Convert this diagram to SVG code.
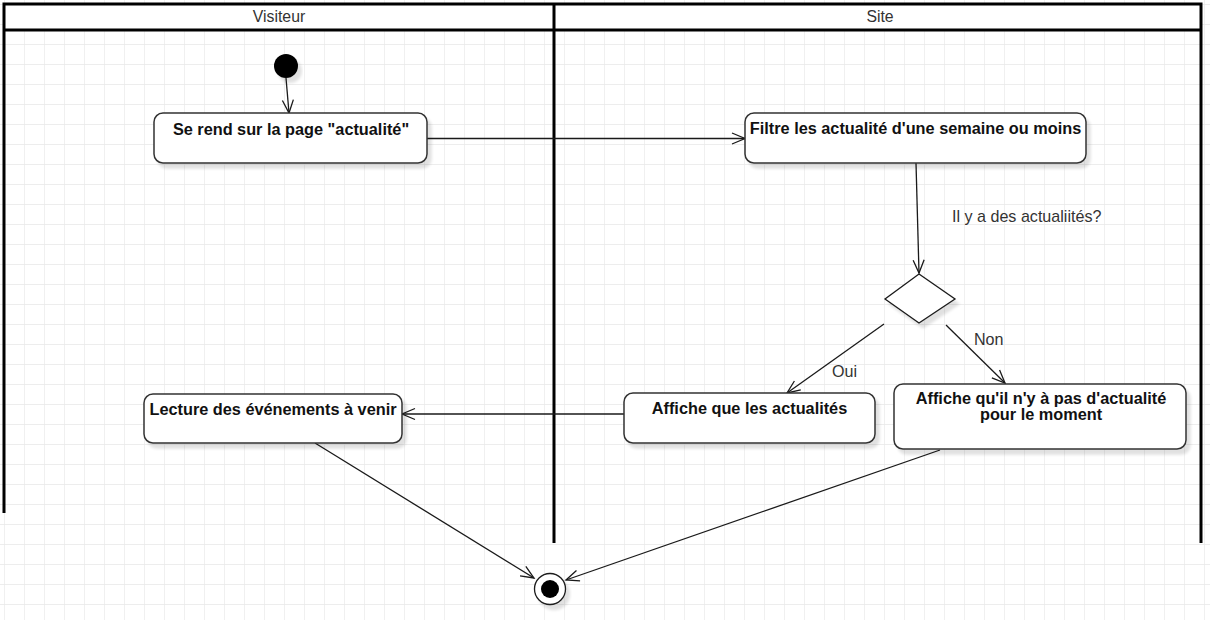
<svg xmlns="http://www.w3.org/2000/svg" width="1210" height="620" viewBox="0 0 1210 620">
  <defs>
    <pattern id="grid" x="4" y="4" width="20" height="20" patternUnits="userSpaceOnUse">
      <path d="M0,0 H20 M0,0 V20" fill="none" stroke="#e8e8e8" stroke-width="1.3"/>
    </pattern>
    <filter id="sh" x="-10%" y="-10%" width="130%" height="140%">
      <feGaussianBlur in="SourceAlpha" stdDeviation="1.5"/>
      <feOffset dx="4" dy="5" result="o"/>
      <feComponentTransfer><feFuncA type="linear" slope="0.12"/></feComponentTransfer>
      <feMerge><feMergeNode/><feMergeNode in="SourceGraphic"/></feMerge>
    </filter>
    <marker id="arr" markerUnits="userSpaceOnUse" markerWidth="16" markerHeight="14" viewBox="-14 -7 16 14" refX="0" refY="0" orient="auto">
      <path d="M-13,-5.5 L0,0 L-13,5.5" fill="none" stroke="#1a1a1a" stroke-width="1.3"/>
    </marker>
  </defs>
  <style>
    .act{fill:#fff;stroke:#333;stroke-width:1.5;filter:url(#sh)}
    .t{font-family:"Liberation Sans",Arial,sans-serif;font-size:16.3px;font-weight:bold;fill:#111;text-anchor:middle}
    .lbl{font-family:"Liberation Sans",Arial,sans-serif;font-size:16.1px;fill:#333}
    .hdr{font-family:"Liberation Sans",Arial,sans-serif;font-size:15.8px;fill:#333;text-anchor:middle}
    .e{fill:none;stroke:#1a1a1a;stroke-width:1.3;marker-end:url(#arr)}
    .pool{fill:none;stroke:#000;stroke-width:3}
  </style>
  <rect width="1210" height="620" fill="#fff"/>
  <rect width="1210" height="620" fill="url(#grid)"/>

  <g id="pool">
    <rect x="4" y="4" width="1197" height="26" fill="#fff"/>
    <path class="pool" d="M4,513 V4 H1201 V543 M4,30 H1201 M554,4 V543"/>
    <text class="hdr" x="279" y="22">Visiteur</text>
    <text class="hdr" x="880" y="22">Site</text>
  </g>

  <g id="connectors">
    <path class="e" d="M286,78 L289,113"/>
    <path class="e" d="M427,138.5 H745"/>
    <path class="e" d="M916,163 L919,273"/>
    <path class="e" d="M884,324 L787,393"/>
    <path class="e" d="M946,325 L1005,383"/>
    <path class="e" d="M624,414 H402"/>
    <path class="e" d="M315,443 L534,578"/>
    <path class="e" d="M940,450 L566,580"/>
    <text class="lbl" x="952" y="222">Il y a des actualiités?</text>
    <text class="lbl" x="832" y="377">Oui</text>
    <text class="lbl" x="974" y="345">Non</text>
  </g>

  <g id="start">
    <circle cx="286" cy="66" r="12" fill="#000" filter="url(#sh)"/>
  </g>

  <g id="n1">
    <rect class="act" x="154" y="113" width="273" height="50" rx="9"/>
    <text class="t" x="291" y="135">Se rend sur la page "actualité"</text>
  </g>

  <g id="n2">
    <rect class="act" x="745" y="113" width="341" height="50" rx="9"/>
    <text class="t" x="915.5" y="134">Filtre les actualité d'une semaine ou moins</text>
  </g>

  <g id="decision">
    <path d="M919,274 L955,299 L919,323 L885,299 Z" fill="#fff" stroke="#1a1a1a" stroke-width="1.3" filter="url(#sh)"/>
  </g>

  <g id="n3">
    <rect class="act" x="624" y="393" width="251" height="50" rx="9"/>
    <text class="t" x="749.5" y="414">Affiche que les actualités</text>
  </g>

  <g id="n4">
    <rect class="act" x="894" y="384" width="292" height="65" rx="9"/>
    <text class="t" x="1041" y="404">Affiche qu'il n'y à pas d'actualité</text>
    <text class="t" x="1041" y="420">pour le moment</text>
  </g>

  <g id="n5">
    <rect class="act" x="144" y="394" width="258" height="49" rx="9"/>
    <text class="t" x="273" y="415">Lecture des événements à venir</text>
  </g>

  <g id="end">
    <circle cx="550" cy="589" r="15.5" fill="#fff" stroke="#1a1a1a" stroke-width="1.3" filter="url(#sh)"/>
    <circle cx="550" cy="589" r="9" fill="#000"/>
  </g>
</svg>
